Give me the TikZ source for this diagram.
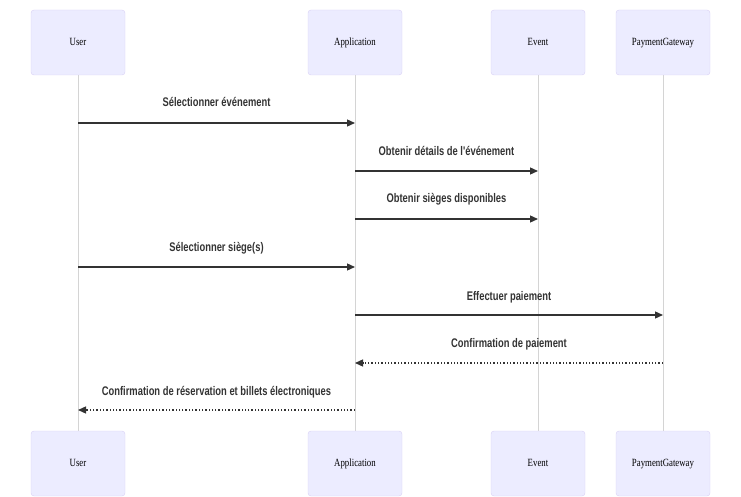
\documentclass[tikz,border=0pt]{standalone}
\usepackage{fontspec}
\usetikzlibrary{arrows.meta}
\newfontfamily\lblfont[FakeStretch=0.75]{Liberation Sans}
\newfontfamily\actfont[FakeStretch=0.8]{Liberation Serif}
\definecolor{actfill}{HTML}{ECECFF}
\definecolor{actdraw}{HTML}{D9D0F5}
\definecolor{lifeline}{HTML}{D4D4D4}
\definecolor{msgcol}{HTML}{333333}
\begin{document}
\begin{tikzpicture}[x=1pt,y=-1pt,
  actor/.style={draw=actdraw,fill=actfill,rounded corners=3pt,minimum width=94pt,minimum height=65pt,inner sep=0pt,text height=8pt,text depth=2.5pt,font=\actfont\fontsize{11}{13}\selectfont,text=black},
  life/.style={draw=lifeline,line width=1pt},
  msg/.style={draw=msgcol,line width=1.3pt,-{Triangle[length=8pt,width=7pt]}},
  ret/.style={msg,dotted},
  lbl/.style={font=\lblfont\bfseries\fontsize{12.5}{14}\selectfont,text=msgcol,inner sep=0pt,text height=9pt,text depth=3pt}]
\useasboundingbox (0,0) rectangle (741,497);
% lifelines
\draw[life] (78,75) -- (78,431);
\draw[life] (355,75) -- (355,431);
\draw[life] (538,75) -- (538,431);
\draw[life] (663,75) -- (663,431);
% actors
\node[actor] (u1) at (78,42.5) {User};
\node[actor] (a1) at (355,42.5) {Application};
\node[actor] (e1) at (538,42.5) {Event};
\node[actor] (p1) at (663,42.5) {PaymentGateway};
\node[actor] (u2) at (78,463.5) {User};
\node[actor] (a2) at (355,463.5) {Application};
\node[actor] (e2) at (538,463.5) {Event};
\node[actor] (p2) at (663,463.5) {PaymentGateway};
% message endpoints
\coordinate (m1s) at (78,123);  \coordinate (m1e) at (355,123);
\coordinate (m2s) at (355,171); \coordinate (m2e) at (538,171);
\coordinate (m3s) at (355,219); \coordinate (m3e) at (538,219);
\coordinate (m4s) at (78,267);  \coordinate (m4e) at (355,267);
\coordinate (m5s) at (355,315); \coordinate (m5e) at (663,315);
\coordinate (m6s) at (663,363); \coordinate (m6e) at (355,363);
\coordinate (m7s) at (355,410); \coordinate (m7e) at (78,410);
\draw[msg] (m1s) -- (m1e);
\draw[msg] (m2s) -- (m2e);
\draw[msg] (m3s) -- (m3e);
\draw[msg] (m4s) -- (m4e);
\draw[msg] (m5s) -- (m5e);
\draw[ret] (m6s) -- (m6e);
\draw[ret] (m7s) -- (m7e);
% labels
\node[lbl] (l1) at (216.5,104) {Sélectionner événement};
\node[lbl] (l2) at (446.5,153) {Obtenir détails de l'événement};
\node[lbl] (l3) at (446.5,200) {Obtenir sièges disponibles};
\node[lbl] (l4) at (216.5,248) {Sélectionner siège(s)};
\node[lbl] (l5) at (509,297) {Effectuer paiement};
\node[lbl] (l6) at (509,344) {Confirmation de paiement};
\node[lbl] (l7) at (216.5,392) {Confirmation de réservation et billets électroniques};
\end{tikzpicture}
\end{document}
